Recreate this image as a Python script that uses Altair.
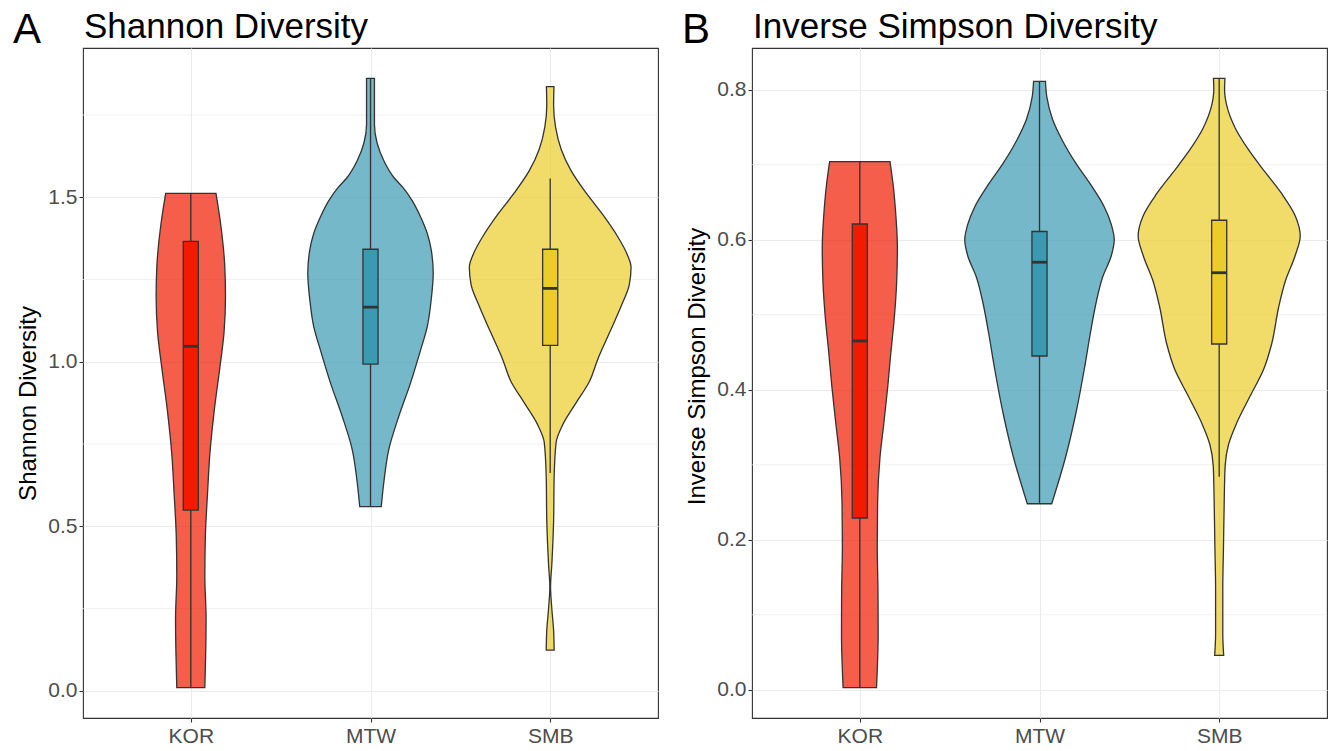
import json
import altair as alt
import pandas as pd

FONT = "Liberation Sans"

groups = ["KOR", "MTW", "SMB"]
positions = [1, 2, 3]
box_colors = ["#F21A00", "#3B9AB2", "#EBCC2A"]

# ---------- Panel A: Shannon diversity (violin outlines) ----------
a_kor_y = [0.01, 0.12, 0.22, 0.35, 0.47, 0.60, 0.72, 0.85, 0.98, 1.09, 1.20, 1.29, 1.415, 1.512]
a_kor_w = [0.078, 0.083, 0.085, 0.078, 0.081, 0.093, 0.106, 0.13, 0.161, 0.185, 0.193, 0.189, 0.167, 0.14]
a_mtw_y = [0.56, 0.633, 0.734, 0.835, 0.936, 1.036, 1.107, 1.19, 1.268, 1.34, 1.39, 1.44, 1.49, 1.53, 1.56, 1.61, 1.664, 1.72, 1.861]
a_mtw_w = [0.06, 0.074, 0.102, 0.158, 0.223, 0.279, 0.316, 0.338, 0.349, 0.338, 0.316, 0.279, 0.232, 0.18, 0.13, 0.075, 0.037, 0.022, 0.022]
a_smb_y = [0.124, 0.184, 0.25, 0.316, 0.383, 0.516, 0.649, 0.755, 0.809, 0.875, 0.941, 1.008, 1.088, 1.168, 1.234, 1.287, 1.327, 1.38, 1.447, 1.513, 1.58, 1.646, 1.713, 1.779, 1.836]
a_smb_w = [0.022, 0.019, 0.009, 0.002, 0.009, 0.019, 0.022, 0.033, 0.07, 0.144, 0.219, 0.265, 0.33, 0.394, 0.44, 0.45, 0.428, 0.376, 0.293, 0.2, 0.117, 0.061, 0.03, 0.019, 0.021]

a_q1 = [0.549, 0.993, 1.050]
a_med = [1.047, 1.166, 1.223]
a_q3 = [1.366, 1.342, 1.342]
a_wlo = [0.01, 0.56, 0.662]
a_whi = [1.512, 1.861, 1.557]
a_ticks = [0.0, 0.5, 1.0, 1.5]
a_minor = [0.25, 0.75, 1.25, 1.75]

# ---------- Panel B: Inverse Simpson diversity ----------
b_kor_y = [0.003, 0.074, 0.133, 0.192, 0.25, 0.309, 0.356, 0.403, 0.45, 0.496, 0.543, 0.59, 0.631, 0.672, 0.704]
b_kor_w = [0.093, 0.102, 0.101, 0.097, 0.099, 0.112, 0.134, 0.155, 0.173, 0.192, 0.205, 0.209, 0.201, 0.186, 0.168]
b_mtw_y = [0.248, 0.31, 0.368, 0.427, 0.474, 0.515, 0.55, 0.579, 0.6, 0.62, 0.644, 0.673, 0.702, 0.732, 0.761, 0.79, 0.811]
b_mtw_w = [0.068, 0.145, 0.202, 0.249, 0.282, 0.314, 0.351, 0.4, 0.416, 0.4, 0.36, 0.286, 0.202, 0.128, 0.072, 0.041, 0.033]
b_smb_y = [0.046, 0.075, 0.134, 0.192, 0.251, 0.298, 0.327, 0.356, 0.392, 0.427, 0.462, 0.509, 0.544, 0.579, 0.605, 0.632, 0.661, 0.69, 0.72, 0.749, 0.778, 0.80, 0.815]
b_smb_w = [0.025, 0.02, 0.02, 0.024, 0.028, 0.033, 0.052, 0.098, 0.173, 0.247, 0.293, 0.33, 0.367, 0.423, 0.451, 0.423, 0.349, 0.256, 0.163, 0.089, 0.043, 0.03, 0.032]

b_q1 = [0.229, 0.445, 0.461]
b_med = [0.465, 0.570, 0.556]
b_q3 = [0.621, 0.611, 0.626]
b_wlo = [0.003, 0.248, 0.284]
b_whi = [0.704, 0.811, 0.815]
b_ticks = [0.0, 0.2, 0.4, 0.6, 0.8]
b_minor = [0.1, 0.3, 0.5, 0.7]

BOX_HALF = 0.042
W, H = 575, 670
LINE = "#333333"


def panel(vys, vws, q1, med, q3, wlo, whi, ticks, minor, ytitle, title, tag, title_y):
    rows = []
    for g, p, ys, ws in zip(groups, positions, vys, vws):
        for yv, wv in zip(ys, ws):
            rows.append({"group": g, "y": yv, "lo": p - wv, "hi": p + wv})
    vdf = pd.DataFrame(rows)
    bdf = pd.DataFrame({
        "group": groups,
        "pos": positions,
        "left": [p - BOX_HALF for p in positions],
        "right": [p + BOX_HALF for p in positions],
        "q1": q1, "med": med, "q3": q3, "wlo": wlo, "whi": whi,
    })
    lo_all = min(min(ys) for ys in vys)
    hi_all = max(max(ys) for ys in vys)
    pad = (hi_all - lo_all) * 0.05
    yscale = alt.Scale(domain=[lo_all - pad, hi_all + pad], nice=False, zero=False)
    xscale = alt.Scale(domain=[0.4, 3.6], nice=False, zero=False)
    cscale = alt.Scale(domain=groups, range=box_colors)

    xaxis = alt.Axis(values=positions, labelExpr=json.dumps(groups) + "[datum.value - 1]",
                     title=None, grid=True, gridColor="#EBEBEB", gridWidth=1.1,
                     domain=False, ticks=True, tickColor=LINE, tickSize=4, tickWidth=1.1,
                     labelFont=FONT, labelFontSize=21, labelColor="#4D4D4D", labelPadding=3)
    yaxis = alt.Axis(values=ticks, format=".1f", title=ytitle, grid=True, gridColor="#EBEBEB",
                     gridWidth=1.1, domain=False, tickColor=LINE, tickSize=4, tickWidth=1.1,
                     labelFont=FONT, labelFontSize=21, labelColor="#4D4D4D", labelPadding=2,
                     titleFont=FONT, titleFontSize=24, titleFontWeight="normal", titleColor="#000000",
                     titleX=-48, titleY=title_y, titleAngle=-90, titleBaseline="alphabetic",
                     titleAlign="center")

    minor_df = pd.DataFrame({"v": minor})
    mgrid = alt.Chart(minor_df).mark_rule(color="#EBEBEB", strokeWidth=0.7).encode(
        y=alt.Y("v:Q", scale=yscale, axis=yaxis)
    )
    violin = alt.Chart(vdf).mark_area(orient="horizontal", fillOpacity=0.7, stroke=LINE,
                                      strokeWidth=1.3, interpolate="monotone").encode(
        y=alt.Y("y:Q", scale=yscale, axis=yaxis),
        x=alt.X("lo:Q", scale=xscale, axis=xaxis),
        x2="hi:Q",
        fill=alt.Fill("group:N", scale=cscale, legend=None),
    )
    whisk = alt.Chart(bdf).mark_rule(color=LINE, strokeWidth=1.3).encode(
        x=alt.X("pos:Q", scale=xscale, axis=xaxis),
        y=alt.Y("wlo:Q", scale=yscale, axis=yaxis),
        y2="whi:Q",
    )
    box = alt.Chart(bdf).mark_bar(stroke=LINE, strokeWidth=1.3).encode(
        x=alt.X("left:Q", scale=xscale, axis=xaxis),
        x2="right:Q",
        y=alt.Y("q1:Q", scale=yscale, axis=yaxis),
        y2="q3:Q",
        fill=alt.Fill("group:N", scale=cscale, legend=None),
    )
    medl = alt.Chart(bdf).mark_rule(color=LINE, strokeWidth=2.8).encode(
        x=alt.X("left:Q", scale=xscale, axis=xaxis),
        x2="right:Q",
        y=alt.Y("med:Q", scale=yscale, axis=yaxis),
    )
    tdf = pd.DataFrame({"tag": [tag], "title": [title]})
    tag_t = alt.Chart(tdf).mark_text(font=FONT, fontSize=42, align="left", baseline="alphabetic",
                                     color="#000000").encode(
        x=alt.value(-70), y=alt.value(-5), text="tag:N")
    title_t = alt.Chart(tdf).mark_text(font=FONT, fontSize=35, align="left", baseline="alphabetic",
                                       color="#000000").encode(
        x=alt.value(1), y=alt.value(-10), text="title:N")
    return alt.layer(mgrid, violin, whisk, box, medl, tag_t, title_t).properties(width=W, height=H)


pa = panel([a_kor_y, a_mtw_y, a_smb_y], [a_kor_w, a_mtw_w, a_smb_w],
           a_q1, a_med, a_q3, a_wlo, a_whi, a_ticks, a_minor,
           "Shannon Diversity", "Shannon Diversity", "A", 355)
pb = panel([b_kor_y, b_mtw_y, b_smb_y], [b_kor_w, b_mtw_w, b_smb_w],
           b_q1, b_med, b_q3, b_wlo, b_whi, b_ticks, b_minor,
           "Inverse Simpson Diversity", "Inverse Simpson Diversity", "B", 318)

chart = alt.hconcat(pa, pb, spacing=22).properties(
    padding={"left": 12, "top": 8, "right": 0, "bottom": 0},
    background="white",
).configure_view(stroke=LINE, strokeWidth=1.1).resolve_scale(fill="independent")

chart.save("out.html", embed_options={"renderer": "svg", "actions": False})
